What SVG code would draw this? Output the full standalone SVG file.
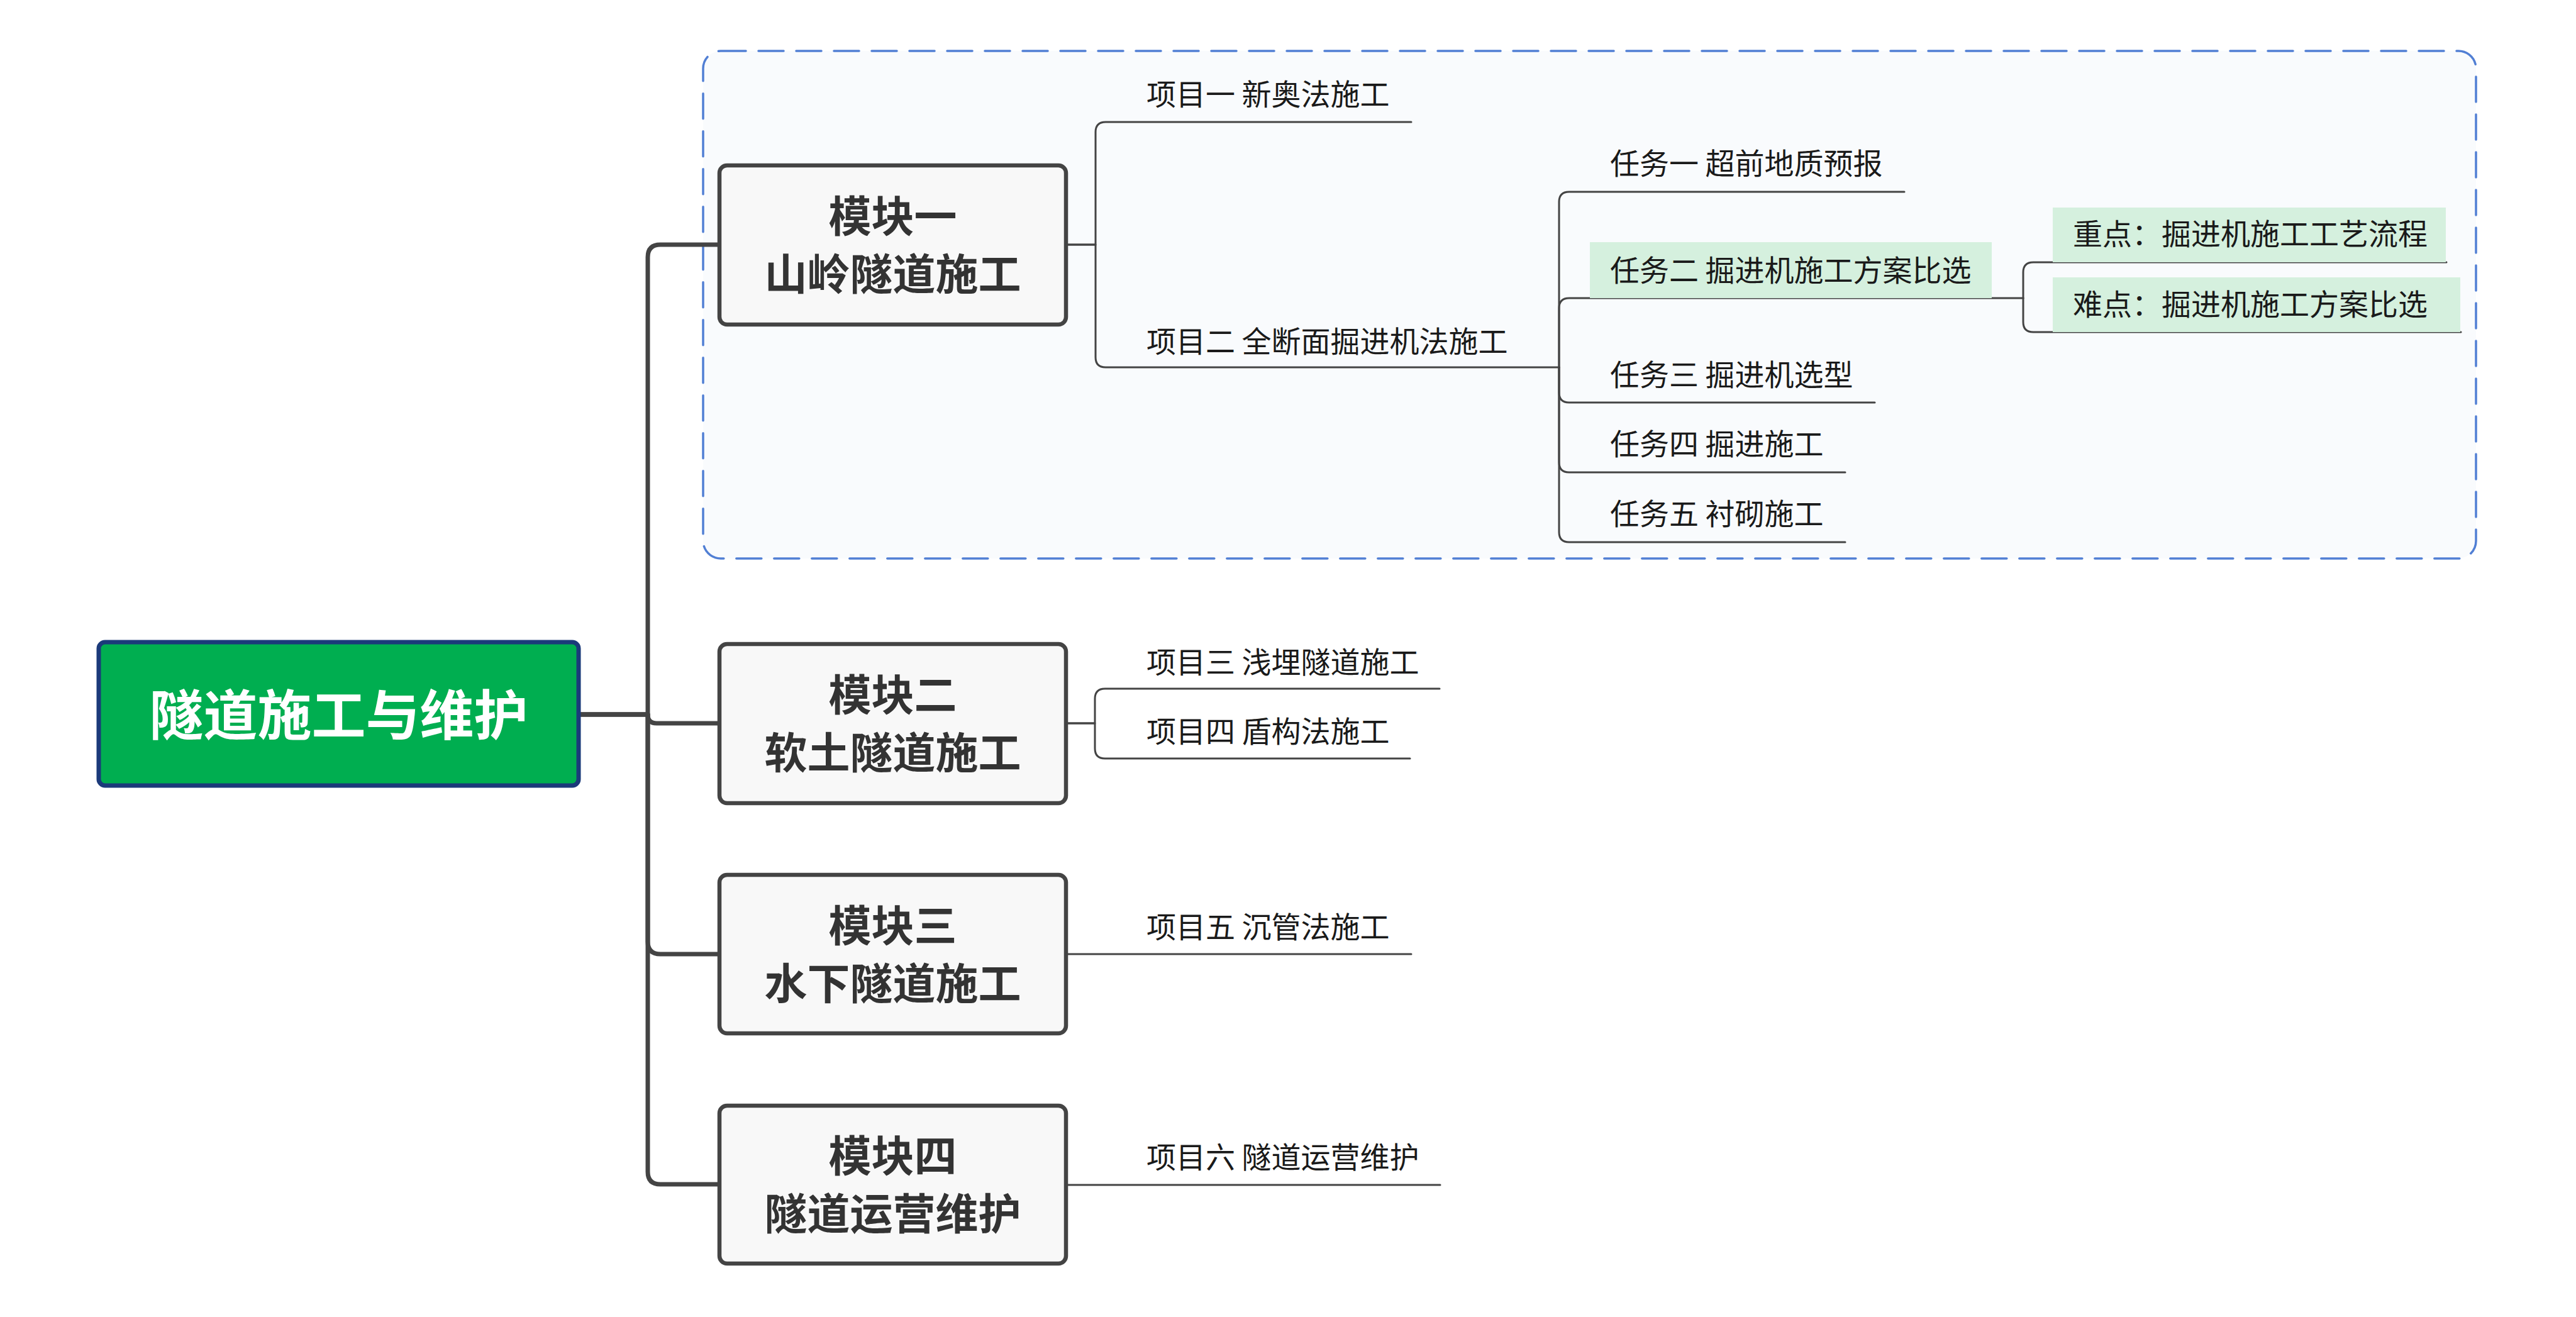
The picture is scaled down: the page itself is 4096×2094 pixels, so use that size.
<svg xmlns="http://www.w3.org/2000/svg" width="4096" height="2094" viewBox="0 0 4096 2094">
<style>
.conn{fill:none;stroke:#444;stroke-linecap:round;stroke-linejoin:round}
.thick{stroke-width:7}
.thin{stroke-width:3}
.mod rect{fill:#F8F8F8;stroke:#444;stroke-width:6.5}
.mod text{font-family:"Noto Sans CJK SC","Noto Sans",sans-serif;font-weight:bold;font-size:68px;fill:#333;text-anchor:middle}
.item text{font-family:"Noto Sans CJK SC","Noto Sans",sans-serif;font-size:47px;fill:#1a1a1a}
.hl{fill:#D5F0DE}
</style>
<rect width="4096" height="2094" fill="#FFFFFF"/>
<g id="boundary">
<rect x="1118" y="81" width="2819" height="807" rx="28" ry="28" fill="#F9FBFD" stroke="#517FD4" stroke-width="3.5" stroke-dasharray="40 20" stroke-linecap="round"/>
</g>
<g id="connectors">
<path class="conn thick" d="M920,1136 H1030 V409 Q1030,389 1050,389 H1144"/>
<path class="conn thick" d="M1030,1136 Q1030,1150 1044,1150 H1144"/>
<path class="conn thick" d="M920,1136 H1030 V1497 Q1030,1517 1050,1517 H1144"/>
<path class="conn thick" d="M920,1136 H1030 V1863 Q1030,1883 1050,1883 H1144"/>
<path class="conn thin" d="M1695,389 H1742 V210 Q1742,194 1758,194 H2244"/>
<path class="conn thin" d="M1695,389 H1742 V568 Q1742,584 1758,584 H2479"/>
<path class="conn thin" d="M2479,584 V321 Q2479,305 2495,305 H3028"/>
<path class="conn thin" d="M2479,584 V490 Q2479,474 2495,474 H3217"/>
<path class="conn thin" d="M2479,584 V624 Q2479,640 2495,640 H2981"/>
<path class="conn thin" d="M2479,584 V735 Q2479,751 2495,751 H2934"/>
<path class="conn thin" d="M2479,584 V846 Q2479,862 2495,862 H2934"/>
<path class="conn thin" d="M3217,474 V433 Q3217,417 3233,417 H3890"/>
<path class="conn thin" d="M3217,474 V512 Q3217,528 3233,528 H3913"/>
<path class="conn thin" d="M1695,1150 H1741 V1111 Q1741,1095 1757,1095 H2289"/>
<path class="conn thin" d="M1695,1150 H1741 V1190 Q1741,1206 1757,1206 H2242"/>
<path class="conn thin" d="M1695,1517 H2244"/>
<path class="conn thin" d="M1695,1884 H2290"/>
</g>
<g id="root">
<rect x="157" y="1021" width="763" height="228" rx="10" ry="10" fill="#00AE50" stroke="#1B3A7A" stroke-width="7"/>
<text x="538.5" y="1169" font-family="'Noto Sans CJK SC','Noto Sans',sans-serif" font-weight="bold" font-size="86" fill="#FFFFFF" text-anchor="middle">隧道施工与维护</text>
</g>
<g id="m1" class="mod">
<rect x="1144" y="263" width="551" height="253" rx="12" ry="12"/>
<text x="1419.5" y="369">模块一</text>
<text x="1419.5" y="461">山岭隧道施工</text>
</g>
<g id="m2" class="mod">
<rect x="1144" y="1024" width="551" height="253" rx="12" ry="12"/>
<text x="1419.5" y="1130">模块二</text>
<text x="1419.5" y="1222">软土隧道施工</text>
</g>
<g id="m3" class="mod">
<rect x="1144" y="1391" width="551" height="252" rx="12" ry="12"/>
<text x="1419.5" y="1497">模块三</text>
<text x="1419.5" y="1589">水下隧道施工</text>
</g>
<g id="m4" class="mod">
<rect x="1144" y="1758" width="551" height="251" rx="12" ry="12"/>
<text x="1419.5" y="1863">模块四</text>
<text x="1419.5" y="1955">隧道运营维护</text>
</g>
<g id="p1" class="item"><text x="1823" y="167">项目一 新奥法施工</text></g>
<g id="p2" class="item"><text x="1823" y="560">项目二 全断面掘进机法施工</text></g>
<g id="t1" class="item"><text x="2560" y="277">任务一 超前地质预报</text></g>
<g id="t2" class="item"><rect class="hl" x="2528" y="385" width="639" height="89"/><text x="2560" y="447">任务二 掘进机施工方案比选</text></g>
<g id="t3" class="item"><text x="2560" y="613">任务三 掘进机选型</text></g>
<g id="t4" class="item"><text x="2560" y="723">任务四 掘进施工</text></g>
<g id="t5" class="item"><text x="2560" y="834">任务五 衬砌施工</text></g>
<g id="k1" class="item"><rect class="hl" x="3264" y="330" width="625" height="87"/><text x="3296" y="389">重点：掘进机施工工艺流程</text></g>
<g id="k2" class="item"><rect class="hl" x="3264" y="441" width="648" height="87"/><text x="3296" y="501">难点：掘进机施工方案比选</text></g>
<g id="p3" class="item"><text x="1823" y="1070">项目三 浅埋隧道施工</text></g>
<g id="p4" class="item"><text x="1823" y="1180">项目四 盾构法施工</text></g>
<g id="p5" class="item"><text x="1823" y="1491">项目五 沉管法施工</text></g>
<g id="p6" class="item"><text x="1823" y="1857">项目六 隧道运营维护</text></g>
</svg>
